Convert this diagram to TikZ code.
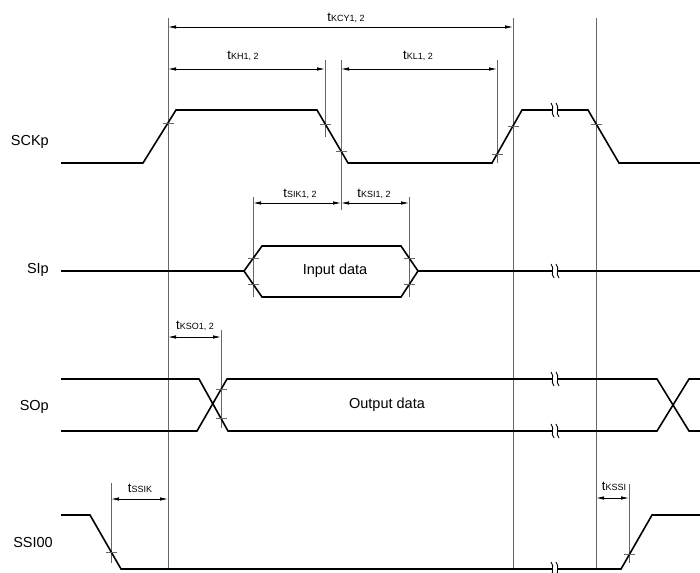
\documentclass[tikz,border=0pt]{standalone}
\usepackage{fontspec}
\setmainfont{Liberation Sans}
\usetikzlibrary{arrows.meta}
\newcommand\tlab[1]{{\fontsize{13}{13}\selectfont t}{\fontsize{9}{9}\selectfont #1}}
\begin{document}
\begin{tikzpicture}[x=1pt,y=-1pt,
  sig/.style={line width=1.6pt, line join=miter, line cap=butt},
  guide/.style={draw=black!60, line width=0.9pt},
  dimline/.style={line width=0.8pt, {Latex[length=8pt,width=3.5pt]}-{Latex[length=8pt,width=3.5pt]}},
  tickmark/.style={draw=black!60, line width=0.9pt},
  siglabel/.style={font=\fontsize{14.5}{14.5}\selectfont, anchor=base east, inner sep=0pt},
  dimlabel/.style={anchor=base, inner sep=0pt},
  datatext/.style={font=\fontsize{14.5}{14.5}\selectfont, inner sep=0pt},
  brk/.pic={
    \fill[white] (-2.2,-4) rectangle (2.2,4);
    \draw[line width=0.9pt] (-4,-7) .. controls (0,-3) and (-5,3) .. (-1,7);
    \draw[line width=0.9pt] (1,-7) .. controls (5,-3) and (0,3) .. (4,7);
  }]
\useasboundingbox (0,0) rectangle (700,572);

% ---------- guide (vertical) lines ----------
\coordinate (v1t) at (168,18);  \coordinate (v1b) at (168,569);
\coordinate (v2t) at (513,18);  \coordinate (v2b) at (513,569);
\coordinate (v3t) at (596,18);  \coordinate (v3b) at (596,569);
\draw[guide] (v1t) -- (v1b);
\draw[guide] (v2t) -- (v2b);
\draw[guide] (v3t) -- (v3b);

% short reference lines
\coordinate (khT) at (325,60);  \coordinate (khB) at (325,137);
\coordinate (klT) at (341,60);  \coordinate (klB) at (341,210);
\coordinate (krT) at (497,60);  \coordinate (krB) at (497,163);
\coordinate (siT) at (253,197); \coordinate (siB) at (253,297);
\coordinate (ksT) at (409,197); \coordinate (ksB) at (409,297);
\coordinate (soT) at (221,330); \coordinate (soB) at (221,428);
\coordinate (ssT) at (111,483); \coordinate (ssB) at (111,563);
\coordinate (kssT) at (629,484); \coordinate (kssB) at (629,563);
\foreach \a/\b in {khT/khB,klT/klB,krT/krB,siT/siB,ksT/ksB,soT/soB,ssT/ssB,kssT/kssB}
  \draw[tickmark] (\a) -- (\b);

% ---------- dimension arrows ----------
\coordinate (kcyL) at (168,27); \coordinate (kcyR) at (513,27);
\draw[dimline] (kcyL) -- (kcyR);
\node[dimlabel] (lkcy) at (346,22) {\tlab{KCY1, 2}};

\coordinate (khL) at (168,69); \coordinate (khR) at (325,69);
\draw[dimline] (khL) -- (khR);
\node[dimlabel] (lkh) at (243,60) {\tlab{KH1, 2}};

\coordinate (klL) at (341,69); \coordinate (klR) at (497,69);
\draw[dimline] (klL) -- (klR);
\node[dimlabel] (lkl) at (418,60) {\tlab{KL1, 2}};

\coordinate (sikL) at (253,203); \coordinate (sikR) at (341,203);
\draw[dimline] (sikL) -- (sikR);
\node[dimlabel] (lsik) at (300,197) {\tlab{SIK1, 2}};

\coordinate (ksiL) at (341,203); \coordinate (ksiR) at (409,203);
\draw[dimline] (ksiL) -- (ksiR);
\node[dimlabel] (lksi) at (374,197) {\tlab{KSI1, 2}};

\coordinate (ksoL) at (168,337); \coordinate (ksoR) at (221,337);
\draw[dimline] (ksoL) -- (ksoR);
\node[dimlabel] (lkso) at (195,329) {\tlab{KSO1, 2}};

\coordinate (ssikL) at (111,499); \coordinate (ssikR) at (168,499);
\draw[dimline] (ssikL) -- (ssikR);
\node[dimlabel] (lssik) at (140,492) {\tlab{SSIK}};

\coordinate (kssiL) at (596,498); \coordinate (kssiR) at (629,498);
\draw[dimline] (kssiL) -- (kssiR);
\node[dimlabel] (lkssi) at (614,490) {\tlab{KSSI}};

% ---------- signal labels ----------
\node[siglabel] (nsck) at (49,146) {SCKp};
\node[siglabel] (nsi)  at (49,273) {SIp};
\node[siglabel] (nso)  at (49,410) {SOp};
\node[siglabel] (nssi) at (53,547) {SSI00};

% ---------- SCKp ----------
\draw[sig] (61,163) -- (143,163) -- (176,110) -- (317,110) -- (348,163)
  -- (492,163) -- (522,110) -- (588,110) -- (619,163) -- (700,163);

% ---------- SIp ----------
\draw[sig] (61,271) -- (244,271) -- (262,246) -- (401,246) -- (418,271) -- (700,271);
\draw[sig] (244,271) -- (262,297) -- (401,297) -- (418,271);
\node[datatext] (indata) at (335,271) {Input data};

% ---------- SOp ----------
\draw[sig] (61,379) -- (199,379) -- (228,431) -- (657,431) -- (689,379) -- (700,379);
\draw[sig] (61,431) -- (197,431) -- (227,379) -- (657,379) -- (689,431) -- (700,431);
\node[datatext] (outdata) at (387,405) {Output data};

% ---------- SSI00 ----------
\draw[sig] (61,515) -- (90,515) -- (121,569) -- (621,569) -- (652,515) -- (700,515);

% ---------- crossing ticks ----------
\foreach \x/\y in {168/123, 325/124, 341/151, 497/154, 513/126, 596/124,
                   253/258, 253/284, 409/258, 409/284,
                   221/389, 221/418, 111/552, 629/554}
  \draw[tickmark] (\x-5.5,\y) -- (\x+5.5,\y);

% ---------- break marks ----------
\foreach \y in {110,271,379,431,569}
  \pic at (555,\y) {brk};

\end{tikzpicture}
\end{document}
